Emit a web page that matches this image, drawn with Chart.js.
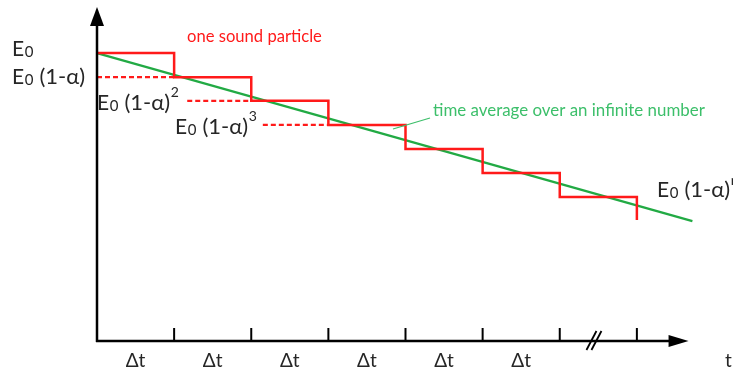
<!DOCTYPE html>
<html><head><meta charset="utf-8">
<script src="https://cdn.jsdelivr.net/npm/chart.js@4.4.1/dist/chart.umd.min.js"></script>
<style>html,body{margin:0;padding:0;background:#fff;}canvas{display:block;}</style>
</head><body>
<canvas id="c" width="733" height="371"></canvas>
<script>
// steps in units of Δt
const stepX = [0, 1, 2, 3, 4, 5, 6, 7];
// energy levels (arbitrary units, axis 0..1)
const stepE = [0.862, 0.790, 0.719, 0.647, 0.575, 0.503, 0.431, 0.362];
// time-average line endpoints
const avgX = [0, 7.72];
const avgE = [0.862, 0.359];
// dashed reference levels
const dashStart = [0, 1.17, 2.15];
const dashEnd = [1, 2, 3];
const dashE = [0.790, 0.719, 0.647];
// tick positions on time axis and their labels (between ticks)
const tickX = [1, 2, 3, 4, 5, 6, 7];
const tickLabels = ["Δt", "Δt", "Δt", "Δt", "Δt", "Δt"];
const xMax = 8, axisEndX = 7.67;

const RED = '#ff1a1a', GREEN = '#22aa44', GREEN_TXT = '#3cbf6a', INK = '#262626';
const FONT = 'Lato, "Open Sans", sans-serif';

const datasets = [
  { data: stepX.map((x,i)=>({x, y: stepE[i]})), borderColor: RED, borderWidth: 2.5, stepped: true, pointRadius: 0, fill: false },
];
dashE.forEach((e,i)=>datasets.push({ data: [{x: dashStart[i], y: e}, {x: dashEnd[i], y: e}], borderColor: RED, borderWidth: 2.2, borderDash: [5,3], pointRadius: 0, fill:false }));
datasets.push({ data: avgX.map((x,i)=>({x, y: avgE[i]})), borderColor: GREEN, borderWidth: 2.3, pointRadius: 0, fill: false, clip: false });

function fitFont(ctx, text, targetW, base) {
  ctx.font = base + 'px ' + FONT;
  const w = ctx.measureText(text).width;
  return (base * targetW / w).toFixed(2) + 'px ' + FONT;
}
function rich(ctx, parts, x, y, color) {
  ctx.save();
  ctx.fillStyle = color; ctx.textBaseline = 'middle'; ctx.textAlign = 'left';
  let cx = x;
  for (const [t, size, dy] of parts) {
    ctx.font = size + 'px ' + FONT;
    ctx.fillText(t, cx, y + dy);
    cx += ctx.measureText(t).width + 0.5;
  }
  ctx.restore();
}
const E0 = [["E",21,0],["0",15,3]];
const E1a = [...E0, [" (1-α)",22,0]];

const annot = {
  id: 'annot',
  afterDatasetsDraw(chart) {
    const {ctx, scales:{x, y}} = chart;
    const px = v => x.getPixelForValue(v), py = v => y.getPixelForValue(v);
    const x0 = px(0), y0 = py(0);
    ctx.save();
    ctx.strokeStyle = '#000'; ctx.fillStyle = '#000'; ctx.lineWidth = 2.5;
    ctx.beginPath(); ctx.moveTo(x0, y0 + 1); ctx.lineTo(x0, py(1) + 16); ctx.stroke();
    ctx.beginPath(); ctx.moveTo(x0, py(1)); ctx.lineTo(x0 - 7, py(1) + 19); ctx.lineTo(x0 + 7, py(1) + 19); ctx.closePath(); ctx.fill();
    const xe = px(axisEndX);
    ctx.beginPath(); ctx.moveTo(x0 - 1, y0); ctx.lineTo(xe - 16, y0); ctx.stroke();
    ctx.beginPath(); ctx.moveTo(xe, y0); ctx.lineTo(xe - 20, y0 - 6); ctx.lineTo(xe - 20, y0 + 6); ctx.closePath(); ctx.fill();
    ctx.lineWidth = 2;
    tickX.forEach(t => { ctx.beginPath(); ctx.moveTo(px(t), y0); ctx.lineTo(px(t), y0 - 13); ctx.stroke(); });
    const bx = px(6.45);
    ctx.lineWidth = 1.8;
    [-3, 2].forEach(o => { ctx.beginPath(); ctx.moveTo(bx + o - 5, y0 + 9); ctx.lineTo(bx + o + 5, y0 - 10); ctx.stroke(); });
    ctx.restore();
    ctx.save();
    ctx.fillStyle = INK; ctx.font = '19px ' + FONT; ctx.textAlign = 'center'; ctx.textBaseline = 'middle';
    tickLabels.forEach((l, i) => ctx.fillText(l, px(tickX[i] - 0.5), y0 + 20));
    ctx.textAlign = 'left';
    ctx.fillText('t', 725, y0 + 20);
    ctx.fillStyle = RED;
    ctx.font = fitFont(ctx, 'one sound particle', 135, 14);
    ctx.fillText('one sound particle', 187, py(stepE[0]) - 16);
    ctx.fillStyle = GREEN_TXT;
    ctx.font = fitFont(ctx, 'time average over an infinite number', 272, 15);
    ctx.fillText('time average over an infinite number', 433, 111);
    ctx.strokeStyle = GREEN_TXT; ctx.lineWidth = 1.2;
    ctx.beginPath(); ctx.moveTo(393, 129); ctx.lineTo(430, 118); ctx.stroke();
    ctx.restore();
    rich(ctx, E0, 12, py(stepE[0]) - 4, INK);
    rich(ctx, E1a, 12, py(dashE[0]), INK);
    rich(ctx, [...E1a, ["2",14,-10]], 97, py(dashE[1]) + 2, INK);
    rich(ctx, [...E1a, ["3",14,-10]], 175, py(dashE[2]) + 2, INK);
    rich(ctx, [...E1a, ["n",14,-10]], 657, py(stepE[6]) - 7, INK);
  }
};

new Chart(document.getElementById('c'), {
  type: 'line',
  data: { datasets },
  options: {
    responsive: false, animation: false,
    layout: { padding: { left: 97, right: 19, top: 7, bottom: 30 } },
    plugins: { legend: { display: false }, tooltip: { enabled: false } },
    scales: {
      x: { type: 'linear', min: 0, max: xMax, display: false },
      y: { type: 'linear', min: 0, max: 1, display: false }
    }
  },
  plugins: [annot]
});
</script>
</body></html>
